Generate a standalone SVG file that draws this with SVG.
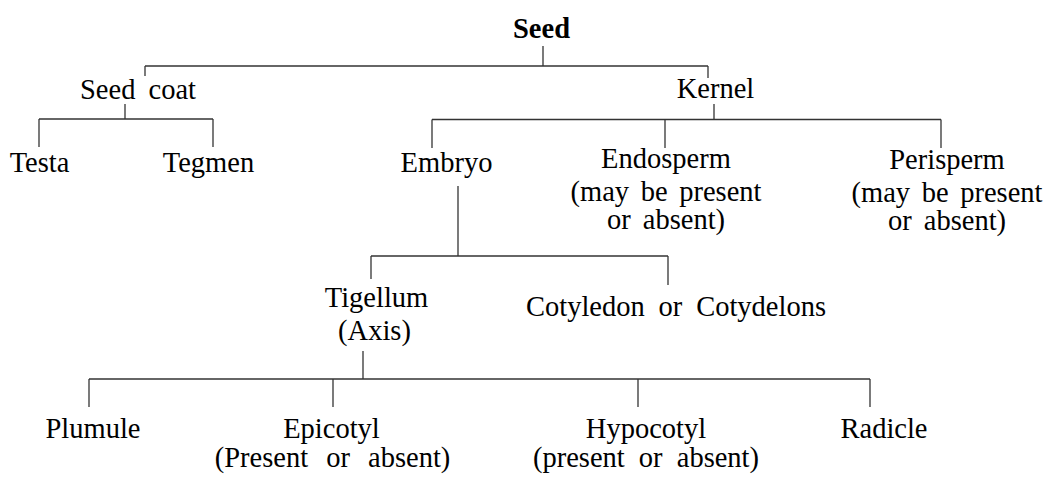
<svg xmlns="http://www.w3.org/2000/svg" width="1049" height="477" viewBox="0 0 1049 477">
<style>
text{font-family:"Liberation Serif","Times New Roman",serif;font-size:28.5px;fill:#000;text-anchor:middle;word-spacing:5px}
.b{font-weight:bold}
.c line{stroke:#333;stroke-width:1.3;fill:none}
</style>
<rect width="1049" height="477" fill="#fff"/>
<g class="c" id="connectors">
<line x1="543" y1="46" x2="543" y2="66"/>
<line x1="145" y1="66" x2="708" y2="66"/>
<line x1="145" y1="66" x2="145" y2="76"/>
<line x1="708" y1="66" x2="708" y2="78"/>
<line x1="125" y1="104" x2="125" y2="119"/>
<line x1="39" y1="119" x2="213" y2="119"/>
<line x1="39" y1="119" x2="39" y2="147"/>
<line x1="213" y1="119" x2="213" y2="147"/>
<line x1="714" y1="104" x2="714" y2="119.5"/>
<line x1="432" y1="119.5" x2="941" y2="119.5"/>
<line x1="432" y1="119.5" x2="432" y2="148"/>
<line x1="665" y1="119.5" x2="665" y2="148"/>
<line x1="941" y1="119.5" x2="941" y2="148"/>
<line x1="458" y1="186" x2="458" y2="256"/>
<line x1="371" y1="256" x2="668" y2="256"/>
<line x1="371" y1="256" x2="371" y2="279"/>
<line x1="668" y1="256" x2="668" y2="285"/>
<line x1="363" y1="351" x2="363" y2="379"/>
<line x1="89" y1="379" x2="870" y2="379"/>
<line x1="89" y1="379" x2="89" y2="407"/>
<line x1="333" y1="379" x2="333" y2="407"/>
<line x1="638" y1="379" x2="638" y2="407"/>
<line x1="870" y1="379" x2="870" y2="407"/>
</g>
<g id="seed"><text class="b" x="541.5" y="38">Seed</text></g>
<g id="seedcoat"><text x="138" y="99" style="word-spacing:6px">Seed coat</text></g>
<g id="kernel"><text x="715.5" y="98">Kernel</text></g>
<g id="testa"><text x="39.5" y="172">Testa</text></g>
<g id="tegmen"><text x="208.5" y="172">Tegmen</text></g>
<g id="embryo"><text x="446.5" y="172">Embryo</text></g>
<g id="endosperm"><text x="666" y="168">Endosperm</text><text x="666" y="201" style="word-spacing:4.5px">(may be present</text><text x="666" y="229">or absent)</text></g>
<g id="perisperm"><text x="947" y="169">Perisperm</text><text x="947" y="202" style="word-spacing:4.5px">(may be present</text><text x="947" y="230">or absent)</text></g>
<g id="tigellum"><text x="376.5" y="307">Tigellum</text><text x="374.5" y="340">(Axis)</text></g>
<g id="cotyledon"><text x="676" y="316" style="word-spacing:6.7px">Cotyledon or Cotydelons</text></g>
<g id="plumule"><text x="93" y="438">Plumule</text></g>
<g id="epicotyl"><text x="331.5" y="438">Epicotyl</text><text x="332.5" y="467" style="word-spacing:11px">(Present or absent)</text></g>
<g id="hypocotyl"><text x="646" y="438">Hypocotyl</text><text x="646" y="467" style="word-spacing:7px">(present or absent)</text></g>
<g id="radicle"><text x="884" y="438">Radicle</text></g>
</svg>
